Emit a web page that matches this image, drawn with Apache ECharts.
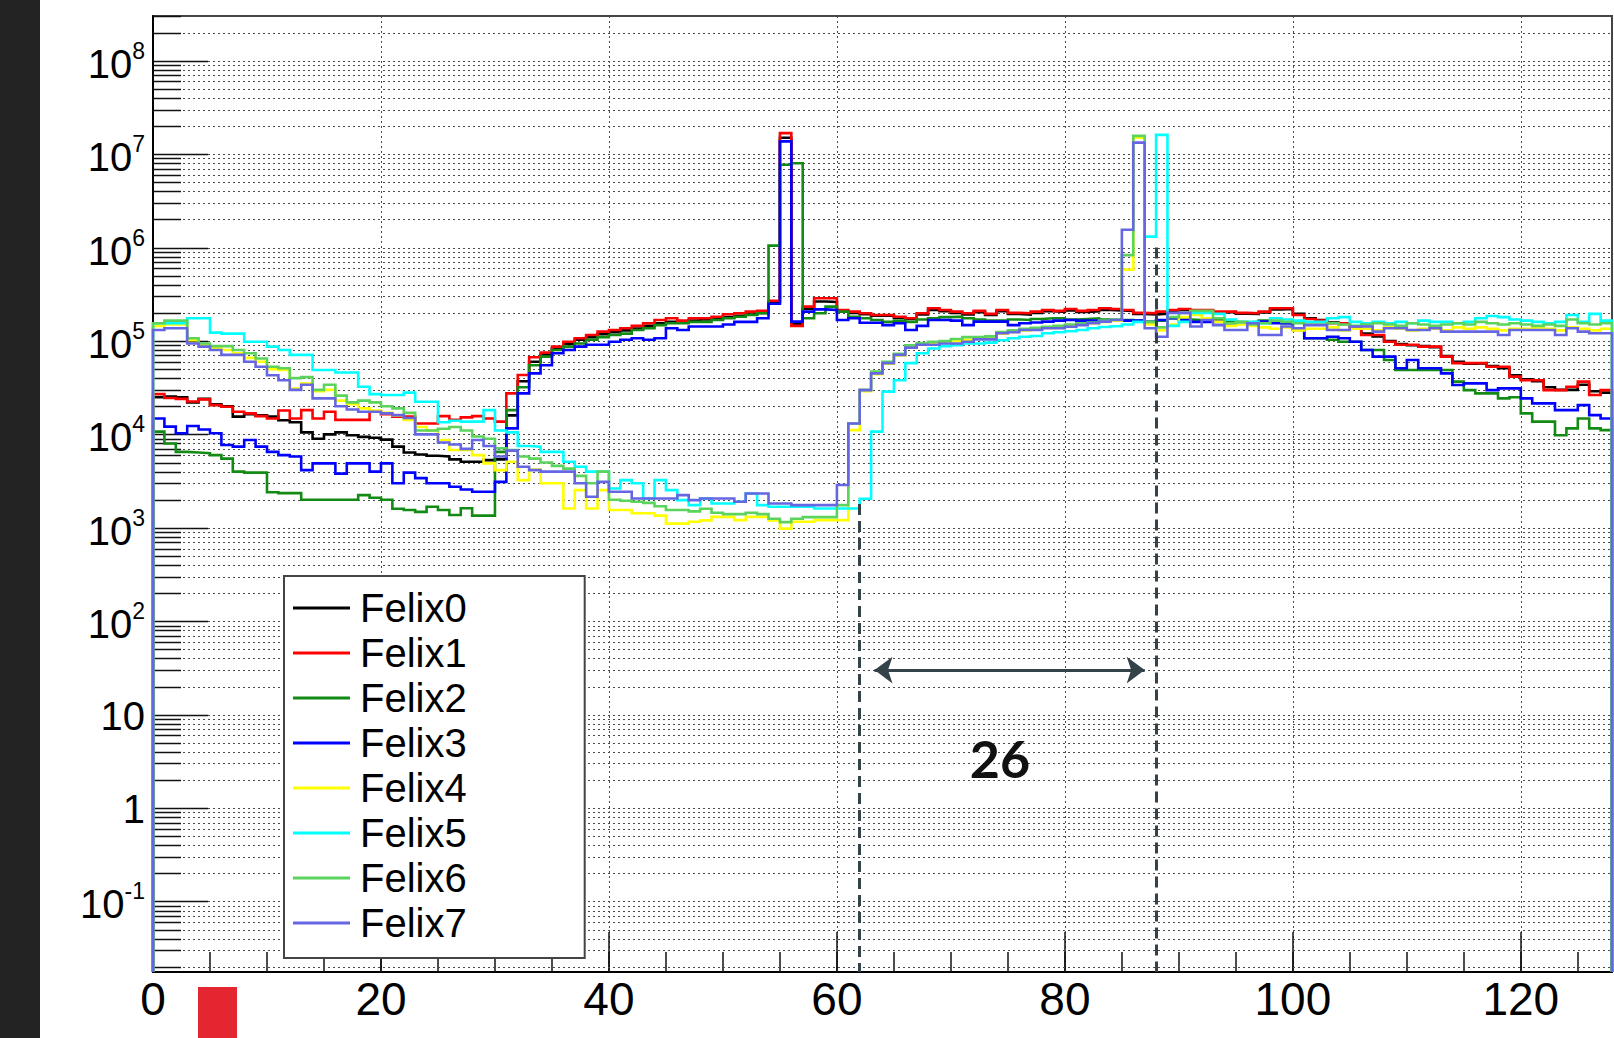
<!DOCTYPE html>
<html>
<head>
<meta charset="utf-8">
<script src="https://cdn.jsdelivr.net/npm/echarts@6/dist/echarts.min.js"></script>
<style>
html,body{margin:0;padding:0;background:#fff;}
#chart{width:1614px;height:1038px;}
</style>
</head>
<body>
<div id="chart"></div>
<script>
// ---------------- data ----------------
const seriesNames = ['Felix0','Felix1','Felix2','Felix3','Felix4','Felix5','Felix6','Felix7'];
const NBINS = 128;
const yLabelExponents = [-1,0,1,2,3,4,5,6,7,8];

const felix0 = [
2.5e4,2.55e4,2.5e4,2.2e4,2.4e4,2.1e4,2.0e4,1.55e4,1.65e4,1.6e4,
1.55e4,1.42e4,1.35e4,1.05e4,9.0e3,1.0e4,1.05e4,9.8e3,9.4e3,9.2e3,
8.8e3,7.4e3,6.4e3,6.1e3,5.9e3,5.8e3,5.4e3,5.1e3,5.1e3,5.3e3,
5.4e3,1.6e4,3.7e4,6.0e4,7.1e4,8.3e4,9.3e4,1.03e5,1.1e5,1.18e5,
1.24e5,1.3e5,1.36e5,1.45e5,1.55e5,1.6e5,1.58e5,1.66e5,1.7e5,1.72e5,
1.8e5,1.86e5,1.92e5,2.0e5,2.6e5,1.5e7,1.52e5,2.22e5,2.65e5,2.62e5,
2.08e5,2.0e5,1.93e5,1.86e5,1.86e5,1.78e5,1.72e5,1.92e5,2.15e5,2.08e5,
2.0e5,1.92e5,2.03e5,1.9e5,2.08e5,1.95e5,1.92e5,2.0e5,2.08e5,2.05e5,
2.12e5,2.05e5,2.08e5,2.15e5,2.12e5,2.1e5,1.95e5,1.92e5,1.95e5,2.1e5,
2.15e5,2.1e5,2.12e5,2.02e5,2.04e5,1.96e5,1.95e5,2.02e5,2.18e5,2.2e5,
1.95e5,1.75e5,1.68e5,1.58e5,1.52e5,1.4e5,1.2e5,1.12e5,1.0e5,9.3e4,
9.0e4,8.8e4,8.6e4,6.9e4,6.0e4,5.7e4,5.8e4,5.4e4,5.1e4,4.3e4,
3.9e4,3.7e4,3.2e4,3.0e4,3.0e4,3.4e4,2.9e4,2.8e4];

const felix1 = [
2.7e4,2.45e4,2.4e4,2.25e4,2.37e4,2.06e4,1.98e4,1.75e4,1.68e4,1.57e4,
1.48e4,1.8e4,1.48e4,1.82e4,1.48e4,1.75e4,1.43e4,1.43e4,1.43e4,1.75e4,
1.65e4,1.55e4,1.55e4,1.31e4,1.31e4,1.57e4,1.43e4,1.52e4,1.57e4,1.48e4,
1.37e4,2.75e4,4.33e4,6.7e4,7.5e4,8.7e4,9.8e4,1.07e5,1.16e5,1.26e5,
1.31e5,1.37e5,1.45e5,1.55e5,1.68e5,1.75e5,1.65e5,1.75e5,1.75e5,1.82e5,
1.93e5,1.98e5,2.06e5,2.11e5,2.7e5,1.68e7,1.45e5,2.33e5,2.87e5,2.87e5,
2.15e5,2.06e5,1.98e5,1.9e5,1.9e5,1.82e5,1.75e5,1.98e5,2.24e5,2.15e5,
2.06e5,1.98e5,2.1e5,1.95e5,2.15e5,2.0e5,1.98e5,2.06e5,2.15e5,2.1e5,
2.2e5,2.1e5,2.15e5,2.24e5,2.2e5,2.15e5,2.0e5,1.98e5,2.06e5,2.15e5,
2.2e5,2.15e5,2.15e5,2.06e5,2.06e5,2.0e5,1.98e5,2.06e5,2.24e5,2.24e5,
1.9e5,1.72e5,1.65e5,1.55e5,1.55e5,1.37e5,1.16e5,1.16e5,9.8e4,9.1e4,
9.1e4,8.7e4,8.7e4,6.8e4,5.8e4,5.8e4,5.8e4,5.3e4,5.3e4,4.15e4,
3.8e4,3.8e4,2.98e4,2.98e4,3.24e4,3.67e4,2.64e4,2.98e4];

const felix2 = [
1.07e4,8.0e3,6.5e3,6.4e3,6.3e3,6.0e3,5.5e3,4.0e3,3.9e3,3.9e3,
2.4e3,2.35e3,2.35e3,2.0e3,2.0e3,2.0e3,2.0e3,2.0e3,2.24e3,2.1e3,
2.0e3,1.6e3,1.55e3,1.48e3,1.68e3,1.55e3,1.37e3,1.62e3,1.35e3,1.35e3,
6.5e3,1.82e4,3.2e4,5.5e4,6.8e4,8.0e4,8.7e4,9.4e4,1.03e5,1.1e5,
1.16e5,1.2e5,1.31e5,1.37e5,1.48e5,1.55e5,1.55e5,1.6e5,1.6e5,1.68e5,
1.75e5,1.82e5,1.9e5,1.98e5,1.05e6,7.7e6,8.0e6,1.75e5,1.98e5,2.33e5,
2.06e5,1.82e5,1.75e5,1.68e5,1.6e5,1.65e5,1.6e5,1.7e5,1.75e5,1.8e5,
1.82e5,1.75e5,1.7e5,1.65e5,1.65e5,1.7e5,1.68e5,1.72e5,1.75e5,1.75e5,
1.7e5,1.72e5,1.75e5,1.7e5,1.68e5,1.68e5,1.65e5,1.6e5,1.65e5,1.75e5,
1.7e5,1.68e5,1.65e5,1.7e5,1.6e5,1.58e5,1.6e5,1.65e5,1.6e5,1.55e5,
1.35e5,1.07e5,1.07e5,1.03e5,9.8e4,9.8e4,8.0e4,8.0e4,6.25e4,4.9e4,
4.9e4,4.9e4,4.9e4,4.9e4,3.67e4,2.98e4,2.75e4,2.75e4,2.43e4,2.5e4,
1.68e4,1.37e4,1.37e4,9.8e3,1.16e4,1.48e4,1.16e4,1.11e4];

const felix3 = [
1.48e4,1.21e4,1.03e4,1.23e4,1.13e4,1.03e4,7.7e3,7.4e3,8.7e3,7.4e3,
6.5e3,6.0e3,5.8e3,4.15e3,4.9e3,4.9e3,3.8e3,4.9e3,4.9e3,4.0e3,
4.9e3,3.0e3,3.9e3,3.4e3,3.0e3,3.0e3,2.75e3,2.57e3,2.43e3,2.43e3,
3.1e3,1.16e4,2.75e4,4.5e4,5.5e4,7.4e4,8.0e4,8.7e4,9.1e4,9.1e4,
9.8e4,1.03e5,1.07e5,1.03e5,1.07e5,1.37e5,1.31e5,1.43e5,1.43e5,1.43e5,
1.5e5,1.6e5,1.6e5,1.75e5,2.5e5,1.37e7,1.61e5,2.06e5,2.18e5,2.15e5,
1.68e5,1.75e5,1.57e5,1.57e5,1.48e5,1.55e5,1.31e5,1.45e5,1.68e5,1.68e5,
1.65e5,1.48e5,1.61e5,1.61e5,1.61e5,1.48e5,1.55e5,1.58e5,1.61e5,1.65e5,
1.68e5,1.65e5,1.65e5,1.65e5,1.65e5,1.65e5,1.65e5,1.6e5,1.68e5,1.75e5,
1.68e5,1.6e5,1.6e5,1.61e5,1.55e5,1.55e5,1.55e5,1.61e5,1.55e5,1.55e5,
1.31e5,1.07e5,1.07e5,1.11e5,1.07e5,9.8e4,8.0e4,6.8e4,6.8e4,5.1e4,
6.25e4,5.1e4,5.1e4,4.5e4,3.38e4,3.52e4,3.52e4,2.98e4,3.11e4,3.11e4,
2.43e4,2.15e4,2.15e4,1.82e4,1.82e4,2.06e4,1.61e4,1.48e4];

const felix4 = [
1.45e5,1.5e5,1.5e5,1.02e5,9.0e4,8.4e4,8.0e4,7.4e4,6.6e4,6.0e4,
5.0e4,4.9e4,3.1e4,3.5e4,2.9e4,3.0e4,2.3e4,2.1e4,1.9e4,1.8e4,
1.7e4,1.6e4,1.43e4,1.2e4,1.1e4,8.7e3,6.8e3,6.8e3,6.0e3,4.9e3,
4.15e3,5.1e3,3.24e3,4.2e3,3.0e3,3.0e3,1.61e3,2.53e3,1.61e3,2.53e3,
1.55e3,1.55e3,1.43e3,1.43e3,1.35e3,1.11e3,1.11e3,1.16e3,1.2e3,1.31e3,
1.31e3,1.21e3,1.31e3,1.31e3,1.2e3,9.8e2,1.16e3,1.16e3,1.21e3,1.21e3,
1.21e3,1.11e4,2.9e4,4.4e4,5.7e4,7.0e4,8.6e4,9.2e4,9.5e4,9.7e4,
1.0e5,1.03e5,1.06e5,1.08e5,1.2e5,1.25e5,1.3e5,1.33e5,1.38e5,1.4e5,
1.45e5,1.5e5,1.55e5,1.6e5,1.65e5,5.8e5,1.5e7,1.5e5,1.3e5,1.5e5,
1.8e5,1.9e5,1.75e5,1.6e5,1.45e5,1.5e5,1.45e5,1.4e5,1.35e5,1.4e5,
1.3e5,1.35e5,1.35e5,1.4e5,1.3e5,1.35e5,1.35e5,1.3e5,1.4e5,1.35e5,
1.3e5,1.35e5,1.35e5,1.3e5,1.4e5,1.35e5,1.4e5,1.35e5,1.3e5,1.35e5,
1.35e5,1.4e5,1.35e5,1.3e5,1.4e5,1.35e5,1.3e5,1.35e5];

const felix5 = [
1.55e5,1.55e5,1.55e5,1.75e5,1.75e5,1.23e5,1.2e5,1.2e5,9.8e4,9.8e4,
8.7e4,8.0e4,7.1e4,7.1e4,4.9e4,4.9e4,4.6e4,4.6e4,3.24e4,2.7e4,
2.64e4,2.64e4,2.8e4,2.24e4,2.24e4,1.35e4,1.4e4,1.37e4,1.37e4,1.82e4,
1.1e4,1.05e4,7.5e3,7.4e3,6.5e3,6.5e3,5.1e3,4.5e3,4.0e3,4.0e3,
2.64e3,3.24e3,3.0e3,2.06e3,3.24e3,2.53e3,1.98e3,1.75e3,2.06e3,1.82e3,
1.82e3,1.9e3,2.33e3,1.75e3,1.68e3,1.68e3,1.68e3,1.68e3,1.61e3,1.61e3,
1.61e3,1.61e3,2.05e3,1.07e4,2.87e4,3.8e4,5.8e4,7.4e4,8.3e4,8.8e4,
9.0e4,9.4e4,9.4e4,9.6e4,1.02e5,1.07e5,1.11e5,1.13e5,1.21e5,1.24e5,
1.27e5,1.31e5,1.37e5,1.41e5,1.44e5,1.5e5,1.6e5,1.31e6,1.61e7,1.45e5,
1.6e5,2.0e5,2.0e5,1.95e5,1.7e5,1.6e5,1.6e5,1.55e5,1.75e5,1.7e5,
1.65e5,1.6e5,1.6e5,1.75e5,1.8e5,1.6e5,1.55e5,1.6e5,1.55e5,1.6e5,
1.55e5,1.65e5,1.6e5,1.6e5,1.55e5,1.6e5,1.75e5,1.85e5,1.8e5,1.7e5,
1.65e5,1.6e5,1.55e5,1.6e5,1.9e5,1.6e5,1.95e5,1.65e5];

const felix6 = [
1.55e5,1.65e5,1.65e5,1.07e5,9.4e4,8.8e4,8.8e4,8.0e4,7.4e4,6.5e4,
5.3e4,5.1e4,4.0e4,4.1e4,3.0e4,3.4e4,2.6e4,2.2e4,2.3e4,2.2e4,
2.0e4,1.9e4,1.7e4,1.1e4,1.1e4,1.15e4,1.2e4,1.1e4,9.5e3,9.0e3,
7.1e3,6.8e3,5.8e3,5.5e3,5.0e3,4.6e3,4.3e3,3.6e3,3.0e3,4.0e3,
2.0e3,1.95e3,1.9e3,1.85e3,1.7e3,1.55e3,1.55e3,1.5e3,1.6e3,1.45e3,
1.4e3,1.4e3,1.45e3,1.4e3,1.25e3,1.15e3,1.25e3,1.3e3,1.3e3,1.3e3,
1.75e3,1.31e4,3.0e4,4.7e4,6.0e4,7.3e4,9.0e4,9.5e4,9.8e4,1.0e5,
1.05e5,1.1e5,1.1e5,1.12e5,1.25e5,1.3e5,1.35e5,1.38e5,1.42e5,1.45e5,
1.5e5,1.55e5,1.58e5,1.65e5,1.7e5,8.3e5,1.57e7,1.6e5,1.4e5,1.8e5,
2.0e5,2.1e5,2.1e5,1.75e5,1.55e5,1.6e5,1.5e5,1.55e5,1.65e5,1.6e5,
1.55e5,1.5e5,1.5e5,1.55e5,1.5e5,1.45e5,1.5e5,1.55e5,1.5e5,1.45e5,
1.55e5,1.5e5,1.45e5,1.5e5,1.55e5,1.5e5,1.6e5,1.55e5,1.5e5,1.55e5,
1.5e5,1.45e5,1.5e5,1.45e5,1.7e5,1.55e5,1.5e5,1.55e5];

const felix7 = [
1.31e5,1.37e5,1.37e5,9.4e4,8.7e4,8.0e4,7.1e4,7.1e4,6.0e4,5.3e4,
4.3e4,3.8e4,3.0e4,3.4e4,2.43e4,2.43e4,2.0e4,1.85e4,1.75e4,1.75e4,
1.68e4,1.61e4,1.5e4,1.0e4,1.0e4,8.2e3,7.8e3,7.0e3,8.7e3,7.5e3,
5.8e3,6.7e3,4.5e3,4.15e3,4.0e3,4.0e3,4.0e3,3.0e3,2.15e3,3.1e3,
2.43e3,2.43e3,2.06e3,2.06e3,2.06e3,2.06e3,2.24e3,1.98e3,2.06e3,2.06e3,
2.06e3,1.9e3,2.33e3,2.33e3,1.82e3,1.82e3,1.75e3,1.75e3,1.75e3,1.75e3,
2.87e3,1.31e4,2.98e4,4.5e4,5.8e4,7.1e4,8.5e4,9.1e4,9.1e4,9.4e4,
9.4e4,9.8e4,1.04e5,1.04e5,1.21e5,1.24e5,1.31e5,1.31e5,1.37e5,1.37e5,
1.42e5,1.48e5,1.55e5,1.61e5,1.68e5,1.55e6,1.33e7,1.37e5,1.11e5,2.0e5,
2.0e5,1.43e5,1.68e5,1.48e5,1.31e5,1.31e5,1.55e5,1.16e5,1.16e5,1.43e5,
1.37e5,1.48e5,1.48e5,1.31e5,1.31e5,1.43e5,1.43e5,1.26e5,1.37e5,1.37e5,
1.31e5,1.31e5,1.37e5,1.26e5,1.26e5,1.26e5,1.26e5,1.26e5,1.16e5,1.31e5,
1.31e5,1.31e5,1.31e5,1.16e5,1.37e5,1.26e5,1.21e5,1.21e5];

// annotation values (data coordinates)
const dashX = [62, 88];
const dashTop = [1.8e3, 1.0e6];
const arrowX = [63.3, 87.0];
const arrowY = 30;
const spanLabel = '26';
const spanLabelPos = [74.3, 3.4];

// ---------------- chart ----------------
const Y_MIN = Math.pow(10, -1.755);
const Y_MAX = Math.pow(10, 8.479);
const colors = ['#000000','#ff0000','#138a13','#0000ff','#ffff00','#00ffff','#5cd35c','#6666e2'];
const allData = [felix0,felix1,felix2,felix3,felix4,felix5,felix6,felix7];
const FONT = 'Liberation Sans, Arial, Helvetica, sans-serif';

function toSteps(vals) {
  const pts = [[0, Y_MIN]];
  vals.forEach((v, i) => pts.push([i, v]));
  pts.push([vals.length, vals[vals.length - 1]]);
  pts.push([vals.length, Y_MIN]);
  return pts;
}

const yGridData = [];
for (let e = -2; e <= 8; e++) {
  for (let k = 1; k <= 9; k++) {
    const v = Number((k * Math.pow(10, e)).toPrecision(6));
    if (v > Y_MIN * 1.0001 && v <= Y_MAX) yGridData.push([0, v, k, e]);
  }
}

const chart = echarts.init(document.getElementById('chart'), null, {renderer: 'svg'});

const dataSeries = seriesNames.map((name, i) => ({
  name: name, type: 'line', step: 'end', symbol: 'none', silent: true,
  animation: false, z: 3,
  lineStyle: {color: colors[i], width: 2.6, cap: 'butt', join: 'miter'},
  itemStyle: {color: colors[i]},
  emphasis: {disabled: true},
  data: toSteps(allData[i])
}));

const gridSeries = {
  type: 'custom', silent: true, animation: false, z: 1, clip: false,
  encode: {x: 0, y: 1},
  data: yGridData,
  renderItem: function (params, api) {
    const v = api.value(1), k = api.value(2), e = api.value(3);
    const cs = params.coordSys;
    const y = Math.round(api.coord([0, v])[1]) + 0.5;
    const children = [
      {type: 'line', silent: true, shape: {x1: cs.x, y1: y, x2: cs.x + cs.width, y2: y},
       style: {stroke: '#4a4a4a', lineWidth: 1, lineDash: [2, 3]}},
      {type: 'line', silent: true, shape: {x1: cs.x, y1: y, x2: cs.x + (k === 1 ? 55 : 28), y2: y},
       style: {stroke: '#111', lineWidth: 1.5}}
    ];
    if (k === 1 && yLabelExponents.indexOf(e) >= 0) {
      let txt;
      if (e === 0) txt = '{p|1}';
      else if (e === 1) txt = '{p|10}';
      else txt = '{b|10}{s|' + e + '}';
      children.push({
        type: 'text', silent: true, x: cs.x - 8, y: y,
        style: {
          text: txt, align: 'right', verticalAlign: 'middle', fill: '#000',
          rich: {
            p: {fontSize: 40, fontFamily: FONT, fill: '#000'},
            b: {fontSize: 40, fontFamily: FONT, fill: '#000', lineHeight: 44, padding: [10, 0, 0, 0], verticalAlign: 'bottom'},
            s: {fontSize: 23, fontFamily: FONT, fill: '#000', lineHeight: 23, verticalAlign: 'top'}
          }
        }
      });
    }
    return {type: 'group', children: children};
  }
};

const annotLine = {color: '#34424a', width: 3, type: [11, 6]};
const annotSeries = {
  type: 'line', name: 'annot', data: [], silent: true, animation: false, z: 5,
  markLine: {
    silent: true, animation: false, symbol: 'none', label: {show: false},
    emphasis: {disabled: true},
    data: [
      [{coord: [dashX[0], dashTop[0]], lineStyle: annotLine}, {coord: [dashX[0], Y_MIN]}],
      [{coord: [dashX[1], dashTop[1]], lineStyle: annotLine}, {coord: [dashX[1], Y_MIN]}],
      [{coord: [arrowX[0], arrowY], symbol: 'arrow', symbolSize: [20, 18],
        lineStyle: {color: '#34424a', width: 3, type: 'solid'}},
       {coord: [arrowX[1], arrowY], symbol: 'arrow', symbolSize: [20, 18]}]
    ]
  },
  markPoint: {
    silent: true, animation: false, symbol: 'rect', symbolSize: 1,
    itemStyle: {color: 'rgba(0,0,0,0)'},
    label: {show: true, position: 'inside', formatter: spanLabel, fontSize: 52,
            fontWeight: 'bold', fontFamily: 'Lato, DejaVu Sans, sans-serif', color: '#111'},
    data: [{coord: spanLabelPos}]
  }
};

chart.setOption({
  animation: false,
  backgroundColor: '#ffffff',
  grid: {left: 153, right: 2, top: 16, bottom: 66, show: true,
         borderColor: '#444', borderWidth: 2, backgroundColor: 'transparent'},
  xAxis: [
    {type: 'value', min: 0, max: NBINS, interval: 20, position: 'bottom',
     axisLine: {show: true, lineStyle: {color: '#000', width: 2}},
     axisTick: {show: true, inside: true, length: 40, lineStyle: {color: '#111', width: 1.5}},
     axisLabel: {show: true, fontSize: 46, fontFamily: FONT, color: '#000', margin: 4,
                 showMaxLabel: false, showMinLabel: true},
     splitLine: {show: true, lineStyle: {color: '#4a4a4a', width: 1, type: [2, 3]}}},
    {type: 'value', min: 0, max: NBINS, interval: 5, position: 'bottom',
     axisLine: {show: false},
     axisTick: {show: true, inside: true, length: 20, lineStyle: {color: '#111', width: 1.5}},
     axisLabel: {show: false}, splitLine: {show: false}}
  ],
  yAxis: {type: 'log', logBase: 10, min: Y_MIN, max: Y_MAX,
          axisLine: {show: true, lineStyle: {color: '#000', width: 2}},
          axisTick: {show: false}, axisLabel: {show: false}, splitLine: {show: false}},
  legend: {
    data: seriesNames, orient: 'vertical', left: 284, top: 576,
    icon: 'rect', itemWidth: 57, itemHeight: 3, itemGap: 5,
    padding: [12, 118, 15, 9], selectedMode: false,
    backgroundColor: '#ffffff', borderColor: '#444', borderWidth: 2, borderRadius: 0,
    textStyle: {fontSize: 40, fontFamily: FONT, color: '#000', lineHeight: 40, padding: [0, 0, 0, 5]}
  },
  graphic: [
    {type: 'rect', z: 100, shape: {x: 0, y: 0, width: 40, height: 1038}, style: {fill: '#232323'}},
    {type: 'rect', z: 100, shape: {x: 198, y: 987, width: 39, height: 51}, style: {fill: '#e3262f'}}
  ],
  series: [gridSeries].concat(dataSeries).concat([annotSeries])
});
</script>
</body>
</html>
